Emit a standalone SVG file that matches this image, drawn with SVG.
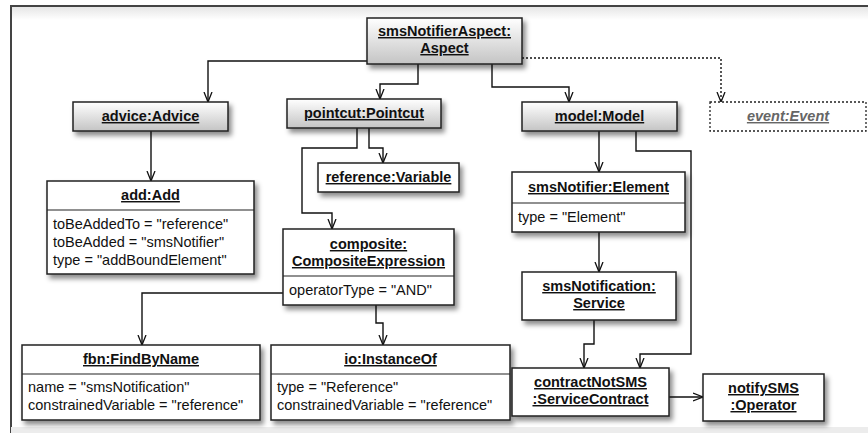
<svg xmlns="http://www.w3.org/2000/svg" width="868" height="433" viewBox="0 0 868 433">
<defs>
<linearGradient id="hg" x1="0" y1="0" x2="0" y2="1"><stop offset="0" stop-color="#ffffff"/><stop offset="1" stop-color="#c4c4c4"/></linearGradient>
<linearGradient id="band" x1="0" y1="0" x2="0" y2="1"><stop offset="0" stop-color="#e4e4e4"/><stop offset="1" stop-color="#ffffff"/></linearGradient>
<filter id="sh" x="-20%" y="-20%" width="150%" height="160%"><feDropShadow dx="3" dy="4" stdDeviation="2.5" flood-color="#000" flood-opacity="0.45"/></filter>
<marker id="ar" markerWidth="14" markerHeight="12" refX="10.5" refY="5" orient="auto" markerUnits="userSpaceOnUse"><path d="M0.5,1 L10.5,5 L0.5,9" fill="none" stroke="#111" stroke-width="1.3"/></marker>
</defs>
<style>
.box{stroke:#222;stroke-width:1.5;filter:url(#sh)}
.hd{fill:url(#hg)}
.pl{fill:#fff}
.t{font-family:"Liberation Sans",Arial,sans-serif;font-size:14.5px;font-weight:bold;text-anchor:middle;text-decoration:underline;fill:#111}
.a{font-family:"Liberation Sans",Arial,sans-serif;font-size:14.5px;fill:#111}
.c{fill:none;stroke:#111;stroke-width:1.4;marker-end:url(#ar)}
.dv{stroke:#222;stroke-width:1.2}
</style>
<rect x="0" y="0" width="868" height="433" fill="#fff"/>
<rect x="11" y="6" width="870" height="14" fill="url(#band)"/>
<path d="M11,433 L11,6 L868,6" fill="none" stroke="#444" stroke-width="2"/>
<rect x="11" y="427" width="857" height="6" fill="#ececec"/>
<g id="connectors">
<path class="c" d="M367,61 H208 V102"/>
<path class="c" d="M418,64 V84 H380 V99"/>
<path class="c" d="M492,64 V87 H569 V102"/>
<path class="c" d="M522,58 H721 V102" stroke-dasharray="2,2"/>
<path class="c" d="M151,131 V181"/>
<path class="c" d="M369,128 V148 H383 V163"/>
<path class="c" d="M357,128 V148 H302 V213 H332 V229"/>
<path class="c" d="M599,131 V172"/>
<path class="c" d="M636,131 V151 H691 V354 H640 V368"/>
<path class="c" d="M599,232 V272"/>
<path class="c" d="M594,320 V344 H584 V368"/>
<path class="c" d="M669,397 H703"/>
<path class="c" d="M283,293 H142 V345"/>
<path class="c" d="M376,305 V323 H383 V345"/>
</g>
<g id="aspect"><rect class="box hd" x="367" y="18" width="155" height="46"/><text class="t" x="444.5" y="36">smsNotifierAspect:</text><text class="t" x="444.5" y="53">Aspect</text></g>
<g id="advice"><rect class="box hd" x="73" y="102" width="155" height="29"/><text class="t" x="150.5" y="121">advice:Advice</text></g>
<g id="pointcut"><rect class="box hd" x="287" y="99" width="154" height="29"/><text class="t" x="364" y="118">pointcut:Pointcut</text></g>
<g id="model"><rect class="box hd" x="522" y="102" width="155" height="29"/><text class="t" x="599.5" y="121">model:Model</text></g>
<g id="event"><rect x="710" y="102" width="156" height="29" fill="#fff" stroke="#222" stroke-width="1.3" stroke-dasharray="2,2"/><text class="t" x="788" y="121" style="font-style:italic;fill:#666">event:Event</text></g>
<g id="add"><rect class="box pl" x="47" y="181" width="207" height="93"/><line class="dv" x1="47" y1="210" x2="254" y2="210"/><text class="t" x="150.5" y="200">add:Add</text><text class="a" x="53" y="229">toBeAddedTo = "reference"</text><text class="a" x="53" y="247">toBeAdded = "smsNotifier"</text><text class="a" x="53" y="265">type = "addBoundElement"</text></g>
<g id="reference"><rect class="box pl" x="318" y="163" width="141" height="29"/><text class="t" x="388.5" y="182">reference:Variable</text></g>
<g id="composite"><rect class="box pl" x="283" y="229" width="171" height="76"/><line class="dv" x1="283" y1="276" x2="454" y2="276"/><text class="t" x="368.5" y="249">composite:</text><text class="t" x="368.5" y="266">CompositeExpression</text><text class="a" x="289" y="295">operatorType = "AND"</text></g>
<g id="element"><rect class="box pl" x="512" y="172" width="173" height="60"/><line class="dv" x1="512" y1="203" x2="685" y2="203"/><text class="t" x="598.5" y="192">smsNotifier:Element</text><text class="a" x="518" y="222">type = "Element"</text></g>
<g id="service"><rect class="box pl" x="522" y="272" width="154" height="48"/><text class="t" x="599" y="291">smsNotification:</text><text class="t" x="599" y="308">Service</text></g>
<g id="fbn"><rect class="box pl" x="22" y="345" width="238" height="75"/><line class="dv" x1="22" y1="374" x2="260" y2="374"/><text class="t" x="141" y="364">fbn:FindByName</text><text class="a" x="28" y="392">name = "smsNotification"</text><text class="a" x="28" y="410">constrainedVariable = "reference"</text></g>
<g id="io"><rect class="box pl" x="271" y="345" width="239" height="75"/><line class="dv" x1="271" y1="374" x2="510" y2="374"/><text class="t" x="390.5" y="364">io:InstanceOf</text><text class="a" x="277" y="392">type = "Reference"</text><text class="a" x="277" y="410">constrainedVariable = "reference"</text></g>
<g id="contract"><rect class="box pl" x="512" y="368" width="157" height="48"/><text class="t" x="590.5" y="387">contractNotSMS</text><text class="t" x="590.5" y="404">:ServiceContract</text></g>
<g id="operator"><rect class="box pl" x="703" y="374" width="121" height="47"/><text class="t" x="763.5" y="393">notifySMS</text><text class="t" x="763.5" y="410">:Operator</text></g>
</svg>
